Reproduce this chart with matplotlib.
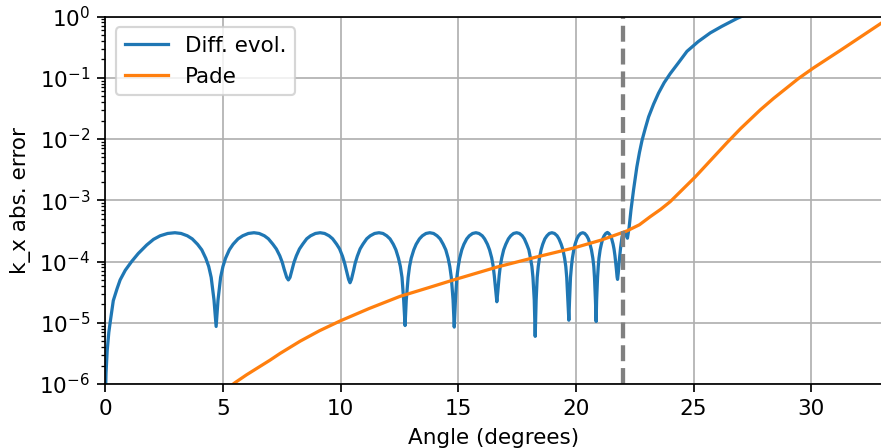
import numpy as np
import matplotlib
matplotlib.use("Agg")
import matplotlib.pyplot as plt

# angle (degrees) and abs. error of k_x for the differential-evolution fit
angle_de = [
    0.0, 0.03, 0.08, 0.15, 0.22, 0.34, 0.5, 0.63, 0.85, 1.12, 1.4, 1.76, 2.05, 2.33, 2.65, 2.96,
    3.22, 3.485, 3.695, 3.92, 4.10, 4.27, 4.395, 4.50, 4.62, 4.71,
    4.79, 4.90, 5.0, 5.11, 5.27, 5.43, 5.64, 5.84, 6.08, 6.32,
    6.54, 6.76, 6.93, 7.12, 7.27, 7.415, 7.52, 7.605, 7.71, 7.78,
    7.85, 7.94, 8.02, 8.12, 8.25, 8.39, 8.56, 8.725, 8.93, 9.13,
    9.32, 9.51, 9.66, 9.83, 9.955, 10.08, 10.17, 10.25, 10.34, 10.40,
    10.46, 10.55, 10.62, 10.71, 10.83, 10.95, 11.11, 11.26, 11.445, 11.63,
    11.80, 11.96, 12.10, 12.24, 12.35, 12.46, 12.54, 12.61, 12.68, 12.74,
    12.79, 12.87, 12.93, 13.0, 13.11, 13.21, 13.35, 13.475, 13.63, 13.79,
    13.95, 14.10, 14.23, 14.36, 14.47, 14.57, 14.64, 14.705, 14.78, 14.83,
    14.88, 14.94, 15.0, 15.06, 15.15, 15.24, 15.36, 15.47, 15.61, 15.75,
    15.88, 16.02, 16.12, 16.24, 16.33, 16.42, 16.48, 16.53, 16.60, 16.64,
    16.68, 16.74, 16.79, 16.85, 16.93, 17.02, 17.13, 17.23, 17.35, 17.48,
    17.60, 17.72, 17.81, 17.91, 18.0, 18.07, 18.13, 18.175, 18.23, 18.27,
    18.31, 18.355, 18.40, 18.45, 18.52, 18.59, 18.68, 18.77, 18.87, 18.98,
    19.09, 19.20, 19.28, 19.375, 19.45, 19.52, 19.57, 19.61, 19.66, 19.70,
    19.73, 19.77, 19.81, 19.85, 19.91, 19.965, 20.04, 20.11, 20.20, 20.29,
    20.375, 20.46, 20.53, 20.60, 20.66, 20.72, 20.76, 20.79, 20.83, 20.86,
    20.88, 20.92, 20.95, 20.98, 21.03, 21.08, 21.14, 21.20, 21.27, 21.34,
    21.40, 21.47, 21.52, 21.58, 21.62, 21.66, 21.69, 21.72, 21.75, 21.77,
    21.80, 21.84, 21.90, 21.96, 22.03, 22.10, 22.19, 22.26, 22.34, 22.45, 22.52, 22.59, 22.70,
    22.81, 22.95, 23.09, 23.3, 23.51, 23.75, 24.01, 24.35, 24.72, 25.2, 25.71, 26.2, 26.85, 27.5, 28.5,
]
err_de = [
    5e-7, 1.5e-6, 3.5e-6, 7e-6, 1.1e-5, 2.3e-5, 3.6e-5, 5e-5, 7.2e-5, 1e-4, 1.35e-4, 1.86e-4, 2.3e-4, 2.63e-4, 2.87e-4, 2.95e-4,
    2.87e-4, 2.63e-4, 2.34e-4, 1.91e-4, 1.55e-4, 1.13e-4, 8.3e-5, 5.5e-5, 2.34e-5, 8.7e-6,
    2.34e-5, 5.5e-5, 8.3e-5, 1.13e-4, 1.55e-4, 1.91e-4, 2.34e-4, 2.63e-4, 2.87e-4, 2.95e-4,
    2.87e-4, 2.63e-4, 2.35e-4, 1.92e-4, 1.6e-4, 1.24e-4, 9.7e-5, 7.4e-5, 5.5e-5, 5.0e-5,
    5.5e-5, 7.4e-5, 9.7e-5, 1.24e-4, 1.6e-4, 1.92e-4, 2.35e-4, 2.63e-4, 2.87e-4, 2.95e-4,
    2.87e-4, 2.63e-4, 2.35e-4, 1.92e-4, 1.61e-4, 1.22e-4, 9.4e-5, 7.1e-5, 5.1e-5, 4.5e-5,
    5.1e-5, 7.1e-5, 9.4e-5, 1.22e-4, 1.61e-4, 1.92e-4, 2.35e-4, 2.63e-4, 2.87e-4, 2.95e-4,
    2.87e-4, 2.63e-4, 2.34e-4, 1.91e-4, 1.55e-4, 1.13e-4, 8.3e-5, 5.5e-5, 2.34e-5, 9e-6,
    2.34e-5, 5.5e-5, 8.3e-5, 1.13e-4, 1.55e-4, 1.91e-4, 2.34e-4, 2.63e-4, 2.87e-4, 2.95e-4,
    2.87e-4, 2.63e-4, 2.34e-4, 1.91e-4, 1.55e-4, 1.13e-4, 8.3e-5, 5.5e-5, 2.34e-5, 8.5e-6,
    2.34e-5, 5.5e-5, 8.3e-5, 1.13e-4, 1.55e-4, 1.91e-4, 2.34e-4, 2.63e-4, 2.87e-4, 2.95e-4,
    2.87e-4, 2.63e-4, 2.34e-4, 1.91e-4, 1.55e-4, 1.15e-4, 8.6e-5, 5.9e-5, 3.2e-5, 2.2e-5,
    3.2e-5, 5.9e-5, 8.6e-5, 1.15e-4, 1.55e-4, 1.91e-4, 2.34e-4, 2.63e-4, 2.87e-4, 2.95e-4,
    2.87e-4, 2.63e-4, 2.34e-4, 1.91e-4, 1.55e-4, 1.13e-4, 8.3e-5, 5.5e-5, 2.34e-5, 6e-6,
    2.34e-5, 5.5e-5, 8.3e-5, 1.13e-4, 1.55e-4, 1.91e-4, 2.34e-4, 2.63e-4, 2.87e-4, 2.95e-4,
    2.87e-4, 2.63e-4, 2.34e-4, 1.91e-4, 1.55e-4, 1.13e-4, 8.3e-5, 5.5e-5, 2.34e-5, 1.1e-5,
    2.34e-5, 5.5e-5, 8.3e-5, 1.13e-4, 1.55e-4, 1.91e-4, 2.34e-4, 2.63e-4, 2.87e-4, 2.95e-4,
    2.87e-4, 2.63e-4, 2.34e-4, 1.91e-4, 1.55e-4, 1.13e-4, 8.3e-5, 5.5e-5, 2.34e-5, 1.05e-5,
    2.34e-5, 5.5e-5, 8.3e-5, 1.13e-4, 1.55e-4, 1.91e-4, 2.34e-4, 2.63e-4, 2.87e-4, 2.98e-4,
    2.87e-4, 2.63e-4, 2.35e-4, 1.92e-4, 1.6e-4, 1.24e-4, 9.8e-5, 7.5e-5, 5.6e-5, 5.1e-5,
    6.5e-5, 1.0e-4, 1.7e-4, 2.5e-4, 3.0e-4, 2.88e-4, 2.4e-4, 3.55e-4, 6.9e-4, 1.48e-3, 2.3e-3, 3.5e-3, 6.0e-3,
    9.5e-3, 1.5e-2, 2.3e-2, 3.7e-2, 5.6e-2, 8.3e-2, 0.117, 0.174, 0.27, 0.39, 0.54, 0.69, 0.93, 1.2, 1.55,
]

# same quantity for the Pade approximation
angle_pade = [5.2, 5.51, 6.0, 6.5, 7.0, 7.43, 8.28, 9.1, 9.98, 11.2, 12.53, 13.7, 14.8, 16.64, 18.27,
              19.9, 21.08, 22.17, 22.7, 23.16, 23.6, 24.01, 25.07, 26.42, 27.0, 27.84, 28.4, 29.47,
              30.1, 31.24, 32.98, 33.5]
err_pade = [8.5e-7, 1.05e-6, 1.41e-6, 1.86e-6, 2.45e-6, 3.16e-6, 5.0e-6, 7.4e-6, 1.07e-5, 1.7e-5, 2.7e-5,
            3.7e-5, 5.0e-5, 8.1e-5, 1.17e-4, 1.66e-4, 2.24e-4, 3.16e-4, 3.98e-4, 5.4e-4, 7.1e-4, 9.5e-4,
            2.4e-3, 8.7e-3, 1.48e-2, 3.0e-2, 4.6e-2, 9.8e-2, 0.145, 0.28, 0.78, 1.05]

cutoff_angle = 22.0

DPI = 155
fig = plt.figure(figsize=(881 / DPI, 448 / DPI), dpi=DPI)
ax = fig.add_axes([105.3 / 881, 64 / 448, 776.5 / 881, 367.5 / 448])

ax.plot(angle_de, err_de, label="Diff. evol.")
ax.plot(angle_pade, err_pade, label="Pade")
ax.axvline(cutoff_angle, color="gray", linestyle="--", linewidth=2)

ax.set_yscale("log")
ax.set_xlim(0, 33)
ax.set_ylim(1e-6, 1e0)
ax.set_xlabel("Angle (degrees)")
ax.set_ylabel("k_x abs. error")
ax.grid(True)
ax.legend(loc="upper left")

fig.savefig("out.png", dpi=DPI)
